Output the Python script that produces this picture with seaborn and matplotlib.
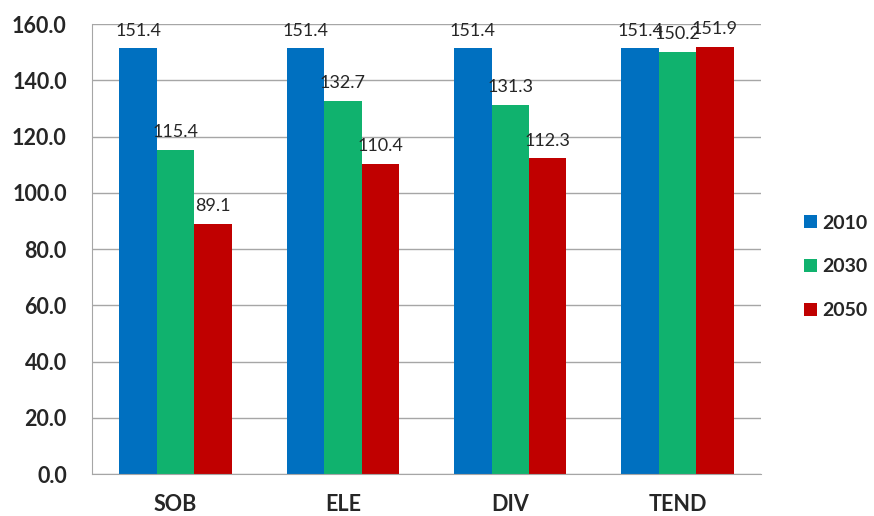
import pandas as pd
import seaborn as sns
import matplotlib.pyplot as plt

# cenarios e valores
cenarios = ["SOB", "ELE", "DIV", "TEND"]
anos = ["2010", "2030", "2050"]
v2010 = [151.4, 151.4, 151.4, 151.4]
v2030 = [115.4, 132.7, 131.3, 150.2]
v2050 = [89.1, 110.4, 112.3, 151.9]
cores = ["#0070C0", "#10B26E", "#C00000"]

df = pd.DataFrame({
    "cenario": cenarios * 3,
    "ano": [a for a in anos for _ in cenarios],
    "valor": v2010 + v2030 + v2050,
})

sns.set_style("white")
plt.rcParams["font.family"] = ["Lato", "DejaVu Sans"]

fig = plt.figure(figsize=(8.74, 5.16), dpi=100)
ax = fig.add_axes([0.105, 0.081, 0.766, 0.872])

sns.barplot(data=df, x="cenario", y="valor", hue="ano", order=cenarios,
            hue_order=anos, palette=cores, width=0.67, gap=0, saturation=1,
            linewidth=0, errorbar=None, ax=ax)

# rotulos de dados
for cont in ax.containers:
    ax.bar_label(cont, fmt="%.1f", padding=7, fontsize=13, color="#262626")

ax.set_ylim(0, 160)
ax.set_yticks(range(0, 161, 20))
ax.set_yticklabels([f"{v:.1f}" for v in range(0, 161, 20)])
ax.set_xlim(-0.5, 3.5)
ax.set_xlabel("")
ax.set_ylabel("")
ax.yaxis.grid(True, color="#A6A6A6", linewidth=1)
ax.set_axisbelow(True)

for s in ["top", "right"]:
    ax.spines[s].set_visible(False)
for s in ["left", "bottom"]:
    ax.spines[s].set_color("#A6A6A6")

ax.tick_params(axis="y", length=6, color="#A6A6A6", labelsize=15.5, pad=12)
ax.tick_params(axis="x", which="major", length=0, labelsize=15.5, pad=14)
ax.set_xticks([-0.5, 0.5, 1.5, 2.5, 3.5], minor=True)
ax.tick_params(axis="x", which="minor", length=9, color="#A6A6A6")
for lab in ax.get_xticklabels() + ax.get_yticklabels():
    lab.set_fontweight("bold")

ax.legend(loc="center left", bbox_to_anchor=(0.909, 0.483),
          bbox_transform=fig.transFigure, frameon=False, borderpad=0,
          prop={"weight": "bold", "size": 14}, handlelength=0.65,
          handleheight=0.65, handletextpad=0.3, labelspacing=1.37)

plt.savefig("out.png", dpi=100)
